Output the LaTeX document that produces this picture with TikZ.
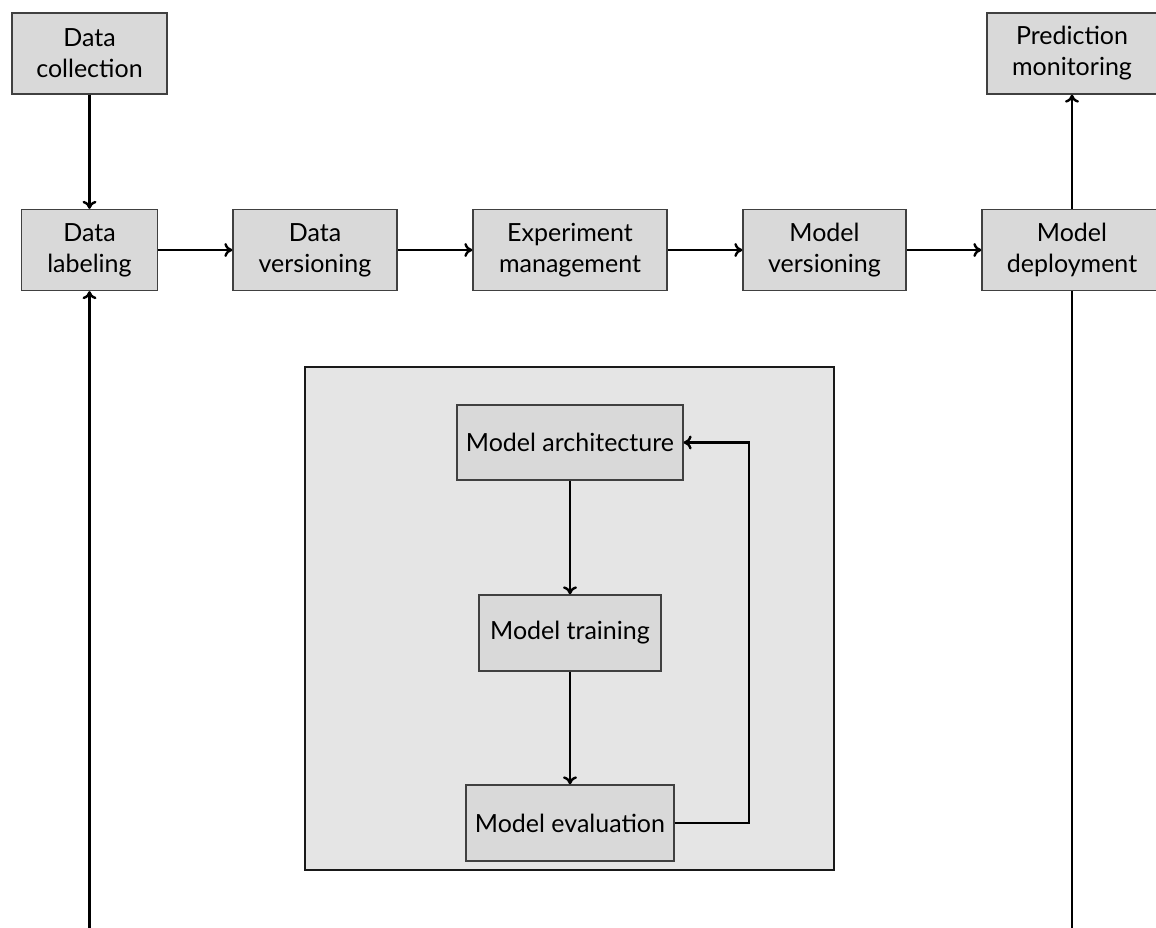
\documentclass[tikz,border=0pt]{standalone}
\usepackage{fontspec}
\setmainfont{Lato}
\usetikzlibrary{arrows.meta}
\begin{document}
\begin{tikzpicture}[x=1pt,y=-1pt,
  every node/.style={font=\fontsize{25}{31}\selectfont},
  stage/.style={draw=black!75, line width=1.3pt, fill=black!15, align=center,
    inner sep=0pt, minimum height=81pt},
  inner stage/.style={stage, minimum height=76pt},
  group/.style={draw=black!90, line width=1.5pt, fill=black!10, inner sep=0pt},
  flow/.style={line width=2.4pt, -{To[length=8pt,width=14pt]}},
  plain/.style={line width=2.4pt}
]
\useasboundingbox (0,0) rectangle (1156,928);

% training loop container
\node[group, minimum width=529pt, minimum height=503pt] (loopbox) at (569.5,618.5) {};

% main pipeline
\node[stage, minimum width=155pt] (collect) at (89.5,53.5) {Data\\collection};
\node[stage, minimum width=136pt] (label) at (89.5,250) {Data\\labeling};
\node[stage, minimum width=164pt] (dver) at (315,250) {Data\\versioning};
\node[stage, minimum width=194pt] (exp) at (570,250) {Experiment\\management};
\node[stage, minimum width=163pt] (mver) at (824.5,250) {Model\\versioning};
\node[stage, minimum width=180pt] (deploy) at (1072,250) {Model\\deployment};
\node[stage, minimum width=170pt] (monitor) at (1072,53.5) {Prediction\\monitoring};

% inner loop
\node[inner stage, minimum width=226pt, minimum height=75pt] (arch) at (570,442.5) {Model architecture};
\node[inner stage, minimum width=182pt] (train) at (570,633) {Model training};
\node[inner stage, minimum width=208pt] (eval) at (570,823) {Model evaluation};

% loose ends running off the bottom
\coordinate (feedin) at (89.5,940);
\coordinate (feedout) at (1072,940);
\coordinate (back) at (749,823);

\draw[flow] (collect) -- (label);
\draw[flow] (label) -- (dver);
\draw[flow] (dver) -- (exp);
\draw[flow] (exp) -- (mver);
\draw[flow] (mver) -- (deploy);
\draw[flow] (deploy) -- (monitor);
\draw[flow] (feedin) -- (label);
\draw[plain] (deploy) -- (feedout);

\draw[flow] (arch) -- (train);
\draw[flow] (train) -- (eval);
\draw[flow] (eval.east) -- (back) |- (arch.east);
\end{tikzpicture}
\end{document}
